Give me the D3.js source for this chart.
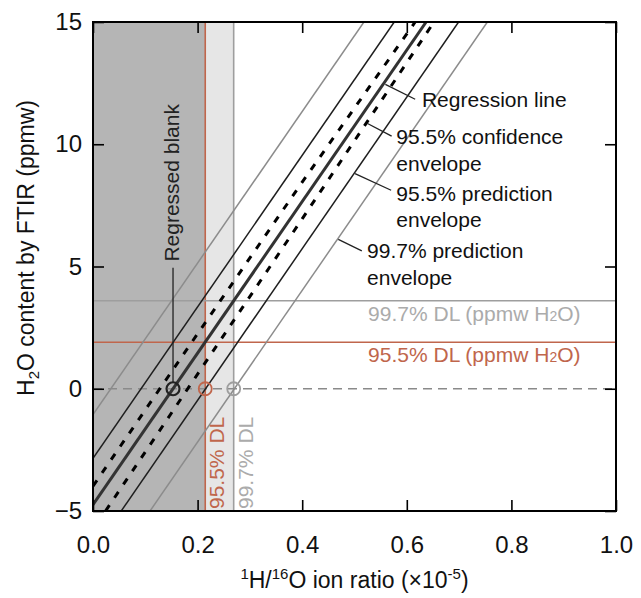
<!DOCTYPE html>
<html>
<head>
<meta charset="utf-8">
<script src="https://cdn.jsdelivr.net/npm/d3@7"></script>
<style>
  body { margin: 0; background: #fff; }
  text { font-family: "Liberation Sans", Arial, Helvetica, sans-serif; }
</style>
</head>
<body>
<svg id="chart" width="641" height="598"></svg>
<script>
// tick values
var xTicks = [0, 0.2, 0.4, 0.6, 0.8, 1.0];
var yTicks = [-5, 0, 5, 10, 15];

// lines, [ion ratio, ppmw]
var regression   = [[0, -4.74], [0.637, 15]];
var conf955Upper = [[0, -3.98], [0.2, 2.25], [0.4, 8.45], [0.616, 15]];
var conf955Lower = [[0.024, -5], [0.2, 0.6], [0.4, 6.95], [0.652, 15]];
var pred955Upper = [[0, -2.85], [0.576, 15]];
var pred955Lower = [[0.054, -5], [0.699, 15]];
var pred997Upper = [[0, -1.06], [0.518, 15]];
var pred997Lower = [[0.109, -5], [0.754, 15]];

// regressed blank and detection limits
var blankRatio = 0.153;
var dlRatio = [0.2146, 0.269];   // 95.5%, 99.7%
var dlPpmw  = [1.9, 3.6];        // 95.5%, 99.7%

// annotations: anchor on line, end of leader, label position, label lines
var notes = [
	{from: [0.559, 12.45], to: [0.616, 11.84], at: [0.629, 11.53], lines: ["Regression line"]},
	{from: [0.524, 10.86], to: [0.571, 10.33], at: [0.580, 10.0], lines: ["95.5% confidence", "envelope"]},
	{from: [0.501, 8.80], to: [0.570, 8.12], at: [0.580, 7.68], lines: ["95.5% prediction", "envelope"]},
	{from: [0.469, 6.11], to: [0.514, 5.64], at: [0.524, 5.33], lines: ["99.7% prediction", "envelope"]}
];

var RED = "#c0664c", GREY = "#9e9e9e", GREYTXT = "#ababab";

var svg = d3.select("#chart");
var x = d3.scaleLinear().domain([0, 1]).range([93, 616]);
var y = d3.scaleLinear().domain([-5, 15]).range([511, 22]);

svg.append("defs").append("clipPath").attr("id", "plot")
	.append("rect")
	.attr("x", x(0)).attr("y", y(15))
	.attr("width", x(1) - x(0)).attr("height", y(-5) - y(15));

var g = svg.append("g").attr("clip-path", "url(#plot)");

// shaded regions
g.append("rect")
	.attr("x", x(0)).attr("y", y(15))
	.attr("width", x(dlRatio[0]) - x(0)).attr("height", y(-5) - y(15))
	.attr("fill", "#b5b5b5");
g.append("rect")
	.attr("x", x(dlRatio[0])).attr("y", y(15))
	.attr("width", x(dlRatio[1]) - x(dlRatio[0])).attr("height", y(-5) - y(15))
	.attr("fill", "#e6e6e6");

// DL lines
var dlColor = [RED, GREY];
dlRatio.forEach(function(v, i) {
	g.append("line")
		.attr("x1", x(v)).attr("x2", x(v))
		.attr("y1", y(-5)).attr("y2", y(15))
		.attr("stroke", dlColor[i]).attr("stroke-width", 1.6);
});
dlPpmw.forEach(function(v, i) {
	g.append("line")
		.attr("x1", x(0)).attr("x2", x(1))
		.attr("y1", y(v)).attr("y2", y(v))
		.attr("stroke", dlColor[i]).attr("stroke-width", 1.6);
});

// zero line
g.append("line")
	.attr("x1", x(0)).attr("x2", x(1))
	.attr("y1", y(0)).attr("y2", y(0))
	.attr("stroke", "#8a8a8a").attr("stroke-width", 1.6)
	.attr("stroke-dasharray", "9,6");

var line = d3.line().x(d => x(d[0])).y(d => y(d[1]));

function drawLine(data, color, width, dash) {
	var p = g.append("path")
		.attr("d", line(data))
		.attr("fill", "none")
		.attr("stroke", color)
		.attr("stroke-width", width);
	if (dash) p.attr("stroke-dasharray", dash);
}

drawLine(pred997Upper, "#8c8c8c", 1.5);
drawLine(pred997Lower, "#8c8c8c", 1.5);
drawLine(pred955Upper, "#1e1e1e", 1.5);
drawLine(pred955Lower, "#1e1e1e", 1.5);
drawLine(conf955Upper, "#000", 3, "7,9");
drawLine(conf955Lower, "#000", 3, "7,9");
drawLine(regression, "#333", 3);

// circles on the zero line
var circ = [[blankRatio, "#222", 2.2], [dlRatio[0], RED, 1.8], [dlRatio[1], GREY, 1.8]];
circ.forEach(function(c) {
	svg.append("circle")
		.attr("cx", x(c[0])).attr("cy", y(0)).attr("r", 6.5)
		.attr("fill", "none").attr("stroke", c[1]).attr("stroke-width", c[2]);
});

// regressed blank label
svg.append("line")
	.attr("x1", x(blankRatio)).attr("x2", x(blankRatio))
	.attr("y1", y(0) - 6.5).attr("y2", y(4.95))
	.attr("stroke", "#222").attr("stroke-width", 1.3);
svg.append("text")
	.attr("transform", "translate(" + (x(blankRatio) + 6) + "," + (y(5.2)) + ") rotate(-90)")
	.attr("font-size", 21).attr("fill", "#222")
	.text("Regressed blank");

// envelope annotations
notes.forEach(function(n) {
	svg.append("line")
		.attr("x1", x(n.from[0])).attr("y1", y(n.from[1]))
		.attr("x2", x(n.to[0])).attr("y2", y(n.to[1]))
		.attr("stroke", "#222").attr("stroke-width", 1.3);
	var t = svg.append("text")
		.attr("x", x(n.at[0])).attr("y", y(n.at[1]))
		.attr("font-size", 21).attr("fill", "#111");
	n.lines.forEach(function(s, i) {
		t.append("tspan").attr("x", x(n.at[0])).attr("dy", i ? 26.5 : 0).text(s);
	});
});

// DL labels
function dlLabel(txt, color, px, py) {
	var t = svg.append("text")
		.attr("x", px).attr("y", py)
		.attr("font-size", 21).attr("fill", color);
	t.append("tspan").text(txt + " (ppmw H");
	t.append("tspan").attr("font-size", 14).text("2");
	t.append("tspan").text("O)");
}
dlLabel("99.7% DL", GREYTXT, x(0.526), y(dlPpmw[1]) + 20);
dlLabel("95.5% DL", RED, x(0.526), y(dlPpmw[0]) + 20);

svg.append("text")
	.attr("transform", "translate(" + (x(dlRatio[0]) + 19) + "," + (y(-5) - 2) + ") rotate(-90)")
	.attr("font-size", 21).attr("fill", RED).text("95.5% DL");
svg.append("text")
	.attr("transform", "translate(" + (x(dlRatio[1]) + 19) + "," + (y(-5) - 2) + ") rotate(-90)")
	.attr("font-size", 21).attr("fill", GREYTXT).text("99.7% DL");

// axes, ticks inward
var fmtX = d3.format(".1f");
var axB = svg.append("g").attr("transform", "translate(0," + y(-5) + ")")
	.call(d3.axisBottom(x).tickValues(xTicks).tickSize(-11).tickPadding(25).tickFormat(fmtX));
var axT = svg.append("g").attr("transform", "translate(0," + y(15) + ")")
	.call(d3.axisTop(x).tickValues(xTicks).tickSize(-11).tickFormat(""));
var axL = svg.append("g").attr("transform", "translate(" + x(0) + ",0)")
	.call(d3.axisLeft(y).tickValues(yTicks).tickSize(-11).tickPadding(11));
var axR = svg.append("g").attr("transform", "translate(" + x(1) + ",0)")
	.call(d3.axisRight(y).tickValues(yTicks).tickSize(-11).tickFormat(""));

[axB, axT, axL, axR].forEach(function(a) {
	a.select(".domain").remove();
	a.selectAll(".tick line").attr("stroke", "#000").attr("stroke-width", 1.6);
	a.selectAll(".tick text").attr("font-size", 24).attr("fill", "#111")
		.attr("font-family", '"Liberation Sans", Arial, sans-serif');
});

// plot frame
svg.append("rect")
	.attr("x", x(0)).attr("y", y(15))
	.attr("width", x(1) - x(0)).attr("height", y(-5) - y(15))
	.attr("fill", "none").attr("stroke", "#000").attr("stroke-width", 2);

// axis titles
var xt = svg.append("text")
	.attr("x", (x(0) + x(1)) / 2).attr("y", 588)
	.attr("text-anchor", "middle").attr("font-size", 23).attr("fill", "#111");
xt.append("tspan").attr("font-size", 15).attr("dy", -9).text("1");
xt.append("tspan").attr("dy", 9).text("H/");
xt.append("tspan").attr("font-size", 15).attr("dy", -9).text("16");
xt.append("tspan").attr("dy", 9).text("O ion ratio (×10");
xt.append("tspan").attr("font-size", 15).attr("dy", -9).text("-5");
xt.append("tspan").attr("dy", 9).text(")");

var yt = svg.append("text")
	.attr("transform", "translate(34," + 248 + ") rotate(-90)")
	.attr("text-anchor", "middle").attr("font-size", 23).attr("fill", "#111");
yt.append("tspan").text("H");
yt.append("tspan").attr("font-size", 15).attr("dy", 5).text("2");
yt.append("tspan").attr("dy", -5).text("O content by FTIR (ppmw)");
</script>
</body>
</html>
